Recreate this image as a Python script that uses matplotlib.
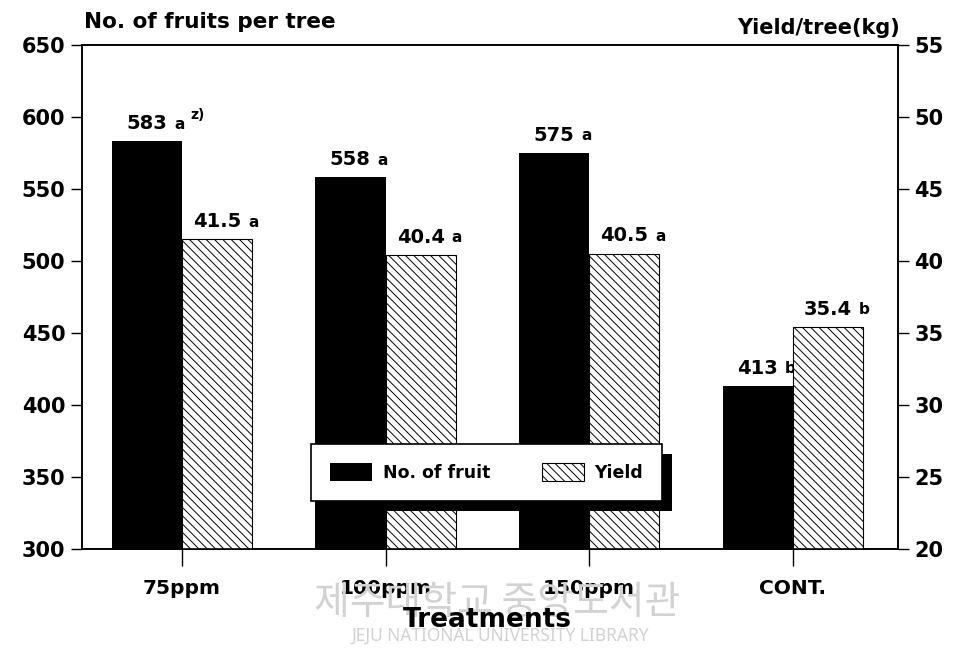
import matplotlib
matplotlib.use('Agg')
import matplotlib.pyplot as plt
import numpy as np
from matplotlib.patches import Rectangle
from matplotlib.transforms import IdentityTransform

# Data
treatments = ['75ppm', '100ppm', '150ppm', 'CONT.']
fruits = [583, 558, 575, 413]          # No. of fruits per tree
fruit_letters = ['a', 'a', 'a', 'b']
yields = [41.5, 40.4, 40.5, 35.4]      # Yield/tree (kg)
yield_letters = ['a', 'a', 'a', 'b']
left_ticks = [300, 350, 400, 450, 500, 550, 600, 650]
right_ticks = [20, 25, 30, 35, 40, 45, 50, 55]

plt.rcParams['font.family'] = 'DejaVu Sans'
plt.rcParams['font.weight'] = 'bold'
plt.rcParams['hatch.linewidth'] = 0.7

fig = plt.figure(figsize=(9.54, 6.62), dpi=100)
ax = fig.add_axes([0.086, 0.171, 0.855, 0.761])
ax2 = ax.twinx()

x = np.arange(len(treatments))
w = 0.345

bars1 = ax.bar(x - w/2, fruits, w, color='black', label='No. of fruit', zorder=2)
bars2 = ax2.bar(x + w/2, yields, w, color='white', edgecolor='black',
                hatch='\\\\\\\\', linewidth=0.8, label='Yield', zorder=2)

ax.set_xlim(-0.49, 3.515)
ax.set_ylim(300, 650)
ax2.set_ylim(20, 55)

# value labels with significance letters
def label_bar(axis, xpos, val, txt, letter, extra=None):
    t = axis.annotate(txt, xy=(xpos, val), xytext=(0, 6), textcoords='offset points',
                      ha='center', va='bottom', fontsize=14, fontweight='bold')
    l = axis.annotate(letter, xy=(1, 0), xycoords=t, xytext=(5, 1), textcoords='offset points',
                      ha='left', va='bottom', fontsize=11, fontweight='bold')
    if extra:
        axis.annotate(extra, xy=(1, 1), xycoords=l, xytext=(4, 6), textcoords='offset points',
                      ha='left', va='top', fontsize=10, fontweight='bold')

for i in range(len(treatments)):
    label_bar(ax, x[i] - w/2, fruits[i], str(fruits[i]), fruit_letters[i],
              'z)' if i == 0 else None)
    label_bar(ax2, x[i] + w/2, yields[i], str(yields[i]), yield_letters[i])

# axes styling
for a in (ax, ax2):
    for s in a.spines.values():
        s.set_linewidth(1.2)
ax.set_yticks(left_ticks)
ax2.set_yticks(right_ticks)
ax.tick_params(axis='y', direction='out', length=8, width=1, labelsize=15, pad=4)
ax2.tick_params(axis='y', direction='out', length=8, width=1, labelsize=15, pad=4)
ax.set_xticks(x)
ax.set_xticklabels(treatments, fontsize=14.5, fontweight='bold')
ax.tick_params(axis='x', direction='out', length=12, width=1, pad=10)

fig.text(84/954, 1 - 22/662, 'No. of fruits per tree', ha='left', va='center',
         fontsize=15.5, fontweight='bold')
fig.text(900/954, 1 - 28/662, 'Yield/tree(kg)', ha='right', va='center',
         fontsize=15, fontweight='bold')

# library watermark
fig.text(497/954, 1 - 603/662, '제주대학교 중앙도서관', ha='center', va='center',
         family=['Noto Sans CJK KR', 'DejaVu Sans'], fontweight='normal',
         fontsize=28, color='#d2d2d2', zorder=0)
fig.text(500/954, 1 - 636/662, 'JEJU NATIONAL UNIVERSITY LIBRARY', ha='center', va='center',
         family='Noto Sans', fontweight='normal', fontsize=12.5, color='#d2d2d2', zorder=0)

fig.text(487/954, 1 - 620/662, 'Treatments', ha='center', va='center',
         fontsize=19, fontweight='bold', zorder=3)

leg = ax2.legend(handles=[bars1, bars2], loc='center', bbox_to_anchor=(0.496, 0.152),
                 ncol=2, fontsize=12.5, frameon=True, fancybox=False, edgecolor='black',
                 framealpha=1, handlelength=2.4, handleheight=1.2, handletextpad=0.6,
                 columnspacing=3.0, borderpad=1.1)
leg.get_frame().set_linewidth(1.2)

# heavy drop shadow behind the legend box
fig.canvas.draw()
bb = leg.get_window_extent()
shadow = Rectangle((bb.x0 + 10, bb.y0 - 10), bb.width, bb.height, transform=IdentityTransform(),
                   facecolor='black', edgecolor='none', zorder=4.5, clip_on=False)
ax2.add_patch(shadow)

fig.savefig('out.png', dpi=100)
